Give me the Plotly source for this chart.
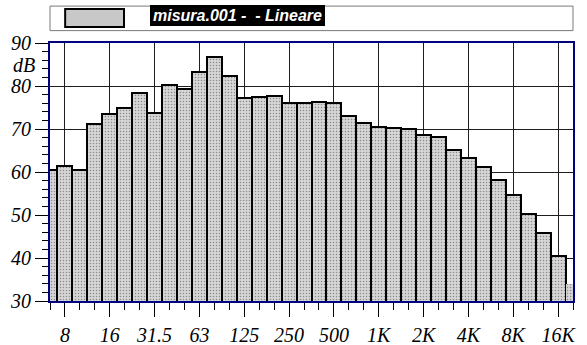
import plotly.graph_objects as go

# 1/3-octave band centres and measured levels (dB)
bands = ["6.3", "8", "10", "12.5", "16", "20", "25", "31.5", "40", "50",
         "63", "80", "100", "125", "160", "200", "250", "315", "400", "500",
         "630", "800", "1K", "1.25K", "1.6K", "2K", "2.5K", "3.15K", "4K", "5K",
         "6.3K", "8K", "10K", "12.5K", "16K", "20K"]
levels = [60.5, 61.3, 60.5, 71.2, 73.6, 75.0, 78.3, 73.7, 80.2, 79.2,
          83.2, 86.7, 82.4, 77.1, 77.5, 77.7, 76.0, 76.1, 76.35, 76.1,
          73.1, 71.5, 70.5, 70.2, 70.0, 68.6, 68.1, 65.1, 63.3, 61.2,
          58.1, 54.7, 50.2, 45.7, 40.5, 34.0]

# octave labels shown on the frequency axis
octave_labels = ["8", "16", "31.5", "63", "125", "250", "500", "1K", "2K", "4K", "8K", "16K"]
y_ticks = [30, 40, 50, 60, 70, 80, 90]
series_name = "misura.001 -\u00a0\u00a0- Lineare"

band_pos = list(range(len(bands)))
octave_pos = [bands.index(lbl) for lbl in octave_labels]

# the last band is drawn without outline
line_w = [2] * (len(bands) - 1) + [0]

serif = "Liberation Serif"
label_font = dict(family=serif, size=20, color="black", style="italic")


def ital(s):
    return "<i>" + s + "</i>"


fig = go.Figure()
fig.add_trace(go.Bar(
    x=band_pos, y=levels, name=series_name,
    marker=dict(
        color="#c8c8c8",
        line=dict(color="black", width=line_w),
        pattern=dict(shape=".", size=3, solidity=0.2,
                     fgcolor="#8a8a8a", bgcolor="#d6d6d6", fillmode="replace"),
    ),
    customdata=bands, textposition="none",
    hovertemplate="%{customdata}: %{y} dB<extra></extra>",
))

fig.update_layout(
    width=587, height=345,
    margin=dict(l=50, r=14, t=43, b=44),
    paper_bgcolor="white", plot_bgcolor="white",
    bargap=0, showlegend=False,
)

fig.update_xaxes(
    range=[0, len(bands) - 1], automargin=False,
    tickmode="array", tickvals=octave_pos, ticktext=[ital(t) for t in octave_labels],
    ticks="outside", ticklen=14, tickwidth=1, tickcolor="black",
    ticklabelstandoff=1,
    minor=dict(dtick=1, tick0=0, ticks="outside", ticklen=7,
               tickwidth=1, tickcolor="black", showgrid=False),
    showgrid=True, gridcolor="#1e1e1e", gridwidth=1,
    showline=True, linecolor="#000080", linewidth=2, mirror=True,
    tickfont=label_font,
    zeroline=False,
)
fig.update_yaxes(
    range=[30, 90], automargin=False,
    tickmode="array", tickvals=y_ticks, ticktext=[ital(str(v)) for v in y_ticks],
    ticks="outside", ticklen=13, tickwidth=1, tickcolor="black",
    minor=dict(dtick=2, tick0=30, ticks="outside", ticklen=6,
               tickwidth=1, tickcolor="black", showgrid=False),
    showgrid=True, gridcolor="#1e1e1e", gridwidth=1,
    showline=True, linecolor="#000080", linewidth=2, mirror=True,
    tickfont=label_font,
    zeroline=False,
)

# unit label on the level axis
fig.add_annotation(
    text=ital("dB"), x=0, xref="paper", y=84.8, yref="y",
    xanchor="right", yanchor="middle", xshift=-13, showarrow=False,
    font=label_font,
)

# legend strip above the plot
fig.add_shape(type="rect", xref="paper", yref="paper",
              x0=0, x1=1.0, y0=1.048, y1=1.143,
              line=dict(color="#7a7a7a", width=1), fillcolor="white")
fig.add_shape(type="rect", xref="paper", yref="paper",
              x0=0.029, x1=0.1415, y0=1.062, y1=1.132,
              line=dict(color="black", width=2), fillcolor="#c8c8c8")
fig.add_shape(type="rect", xref="paper", yref="paper",
              x0=0.1912, x1=0.5258, y0=1.066, y1=1.147,
              line=dict(width=0), fillcolor="black")
fig.add_annotation(
    text="<b><i>" + series_name + "</i></b>",
    x=0.1925, xref="paper", y=1.1065, yref="paper",
    xanchor="left", yanchor="middle", showarrow=False,
    font=dict(family="Liberation Sans", size=16, color="white"),
)

fig.write_html("out.html")
